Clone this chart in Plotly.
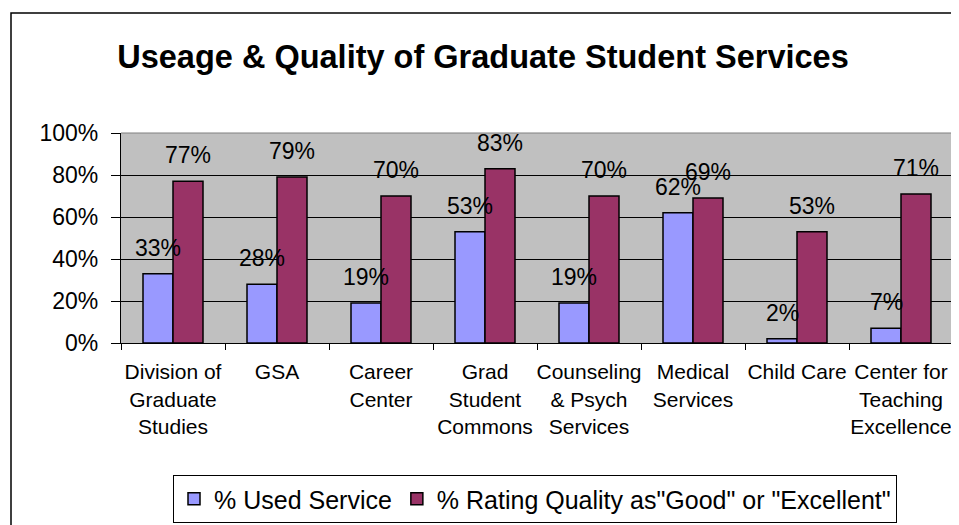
import plotly.graph_objects as go

categories = ["Division of<br>Graduate<br>Studies", "GSA", "Career<br>Center",
              "Grad<br>Student<br>Commons", "Counseling<br>& Psych<br>Services",
              "Medical<br>Services", "Child Care", "Center for<br>Teaching<br>Excellence"]
used_service = [33, 28, 19, 53, 19, 62, 2, 7]
rating_good = [77, 79, 70, 83, 70, 69, 53, 71]
series_names = ["% Used Service", "% Rating Quality as\"Good\" or \"Excellent\""]
y_ticks = [0, 20, 40, 60, 80, 100]
y_tick_labels = ["0%", "20%", "40%", "60%", "80%", "100%"]

# page body has an 8px margin; build the figure 8px smaller so it fits the window
OFF = 8
W, H = 959 - OFF, 525 - OFF
ML, MT = 121 - OFF, 133 - OFF
PR, PB = 953 - OFF, 343 - OFF
MR, MB = W - PR, H - PB
PW = PR - ML
PH = PB - MT

FONT = "Liberation Sans, Arial, sans-serif"
BLUE = "#9999FF"
RED = "#993366"

fig = go.Figure()
fig.add_trace(go.Bar(x=categories, y=used_service, name=series_names[0],
                     marker=dict(color=BLUE, line=dict(color="black", width=1.5))))
fig.add_trace(go.Bar(x=categories, y=rating_good, name=series_names[1],
                     marker=dict(color=RED, line=dict(color="black", width=1.5))))

bargap = 0.423
half = (1 - bargap) / 4
annotations = []
for i, (u, r) in enumerate(zip(used_service, rating_good)):
    for xv, val in ((i - half, u), (i + half, r)):
        annotations.append(dict(x=xv, y=val, xref="x", yref="y", text=f"{val}%",
                                showarrow=False, yanchor="middle", yshift=26,
                                font=dict(family=FONT, size=23, color="black")))


def px_x(p):
    return (p - OFF - ML) / PW


def px_y(p):
    return (PB - (p - OFF)) / PH


shapes = [
    # outer chart frame
    dict(type="rect", xref="paper", yref="paper",
         x0=px_x(11), x1=px_x(970), y0=px_y(540), y1=px_y(13),
         line=dict(color="black", width=1.5), layer="below"),
    # plot area top/right border
    dict(type="line", xref="paper", yref="paper", x0=0, x1=1, y0=1, y1=1,
         line=dict(color="#808080", width=1.2), layer="above"),
    dict(type="line", xref="paper", yref="paper", x0=1, x1=1, y0=0, y1=1,
         line=dict(color="#808080", width=1.2), layer="above"),
]

fig.update_layout(
    width=W, height=H,
    margin=dict(l=ML, r=MR, t=MT, b=MB, autoexpand=False),
    paper_bgcolor="white",
    plot_bgcolor="#C0C0C0",
    barmode="group",
    bargap=bargap,
    bargroupgap=0,
    font=dict(family=FONT, color="black"),
    title=dict(text="<b>Useage & Quality of Graduate Student Services</b>",
               x=(483 - OFF) / W, xanchor="center", y=1 - (57 - OFF) / H,
               yanchor="middle", yref="container",
               font=dict(family=FONT, size=32.5, color="black")),
    xaxis=dict(showline=True, linecolor="black", linewidth=1.2,
               ticks="outside", tickson="boundaries", ticklen=6,
               tickcolor="black", tickwidth=1.2,
               tickfont=dict(family=FONT, size=21, color="black"),
               showgrid=False, tickangle=0, automargin=False,
               ticklabelstandoff=10),
    yaxis=dict(range=[0, 100], tickmode="array", tickvals=y_ticks,
               ticktext=y_tick_labels,
               showline=True, linecolor="black", linewidth=1.2,
               ticks="outside", ticklen=9, tickcolor="black", tickwidth=1.2,
               showgrid=True, gridcolor="black", gridwidth=1.2,
               zeroline=False, automargin=False,
               tickfont=dict(family=FONT, size=23, color="black"),
               ticklabelstandoff=8),
    legend=dict(orientation="h", x=px_x(535), xanchor="center",
                y=px_y(475), yanchor="top",
                bgcolor="white", bordercolor="black", borderwidth=1,
                font=dict(family=FONT, size=25, color="black"),
                traceorder="normal", itemwidth=30),
    annotations=annotations,
    shapes=shapes,
    showlegend=True,
)

fig.write_html("out.html")
